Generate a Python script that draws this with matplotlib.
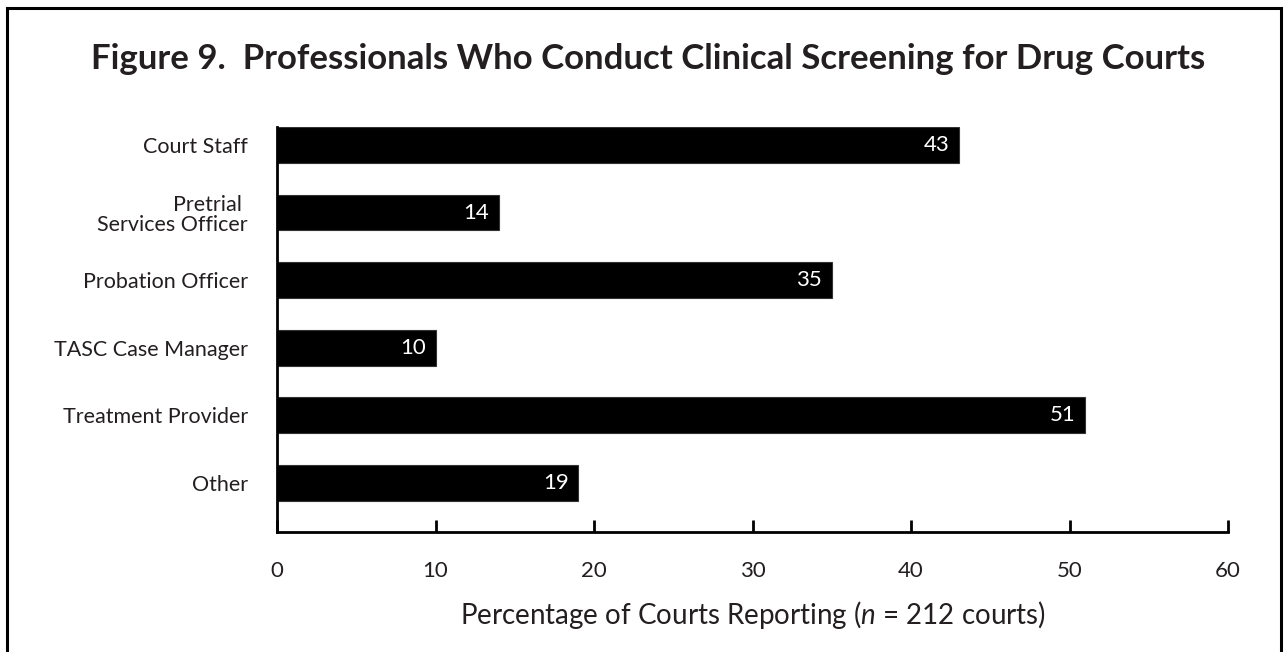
import matplotlib
matplotlib.use("Agg")
import matplotlib.pyplot as plt
from matplotlib.patches import Rectangle

categories = ["Court Staff", "Pretrial \nServices Officer", "Probation Officer",
              "TASC Case Manager", "Treatment Provider", "Other"]
values = [43, 14, 35, 10, 51, 19]
xticks = [0, 10, 20, 30, 40, 50, 60]
title = "Figure 9.  Professionals Who Conduct Clinical Screening for Drug Courts"

plt.rcParams['font.family'] = ['Lato', 'DejaVu Sans']
plt.rcParams['mathtext.fontset'] = 'custom'
plt.rcParams['mathtext.it'] = 'Lato:italic'
plt.rcParams['mathtext.rm'] = 'Lato'
txt = '#231f20'

W, H = 1284, 652
fig = plt.figure(figsize=(W / 100, H / 100), dpi=100)
ax = fig.add_axes([277 / W, 1 - 532 / H, (1228 - 277) / W, (532 - 127) / H])

ypos = list(range(len(categories)))
ax.barh(ypos, values, height=0.53, color='black', edgecolor='#333333', linewidth=0.8)
for y, v in zip(ypos, values):
    ax.text(v - 0.6, y, str(v), color='white', ha='right', va='center', fontsize=16)

ax.set_xlim(0, 60)
ax.set_ylim(5.725, -0.265)
ax.set_yticks(ypos)
ax.set_yticklabels(categories, fontsize=15.5, color=txt, multialignment='right',
                   linespacing=1.0)
ax.tick_params(axis='y', length=0, pad=21)
ax.set_xticks(xticks)
ax.set_xticklabels([str(t) for t in xticks], fontsize=16, color=txt)
ax.tick_params(axis='x', direction='in', length=9, width=2, pad=21, colors='black',
               labelcolor=txt)
for s in ['top', 'right']:
    ax.spines[s].set_visible(False)
for s in ['left', 'bottom']:
    ax.spines[s].set_linewidth(2)
ax.set_xlabel("Percentage of Courts Reporting ($\\it{n}$ = 212 courts)", fontsize=20,
              color=txt, labelpad=13)

fig.text(648 / W, 1 - 59 / H, title, ha='center', va='center', fontsize=25,
         fontweight='bold', color=txt)

fig.add_artist(Rectangle((7 / W, -0.05), (1281 - 7) / W, 1.05 - 8 / H,
                         transform=fig.transFigure, fill=False, edgecolor='black',
                         linewidth=2.2))

fig.savefig("out.png", dpi=100)
